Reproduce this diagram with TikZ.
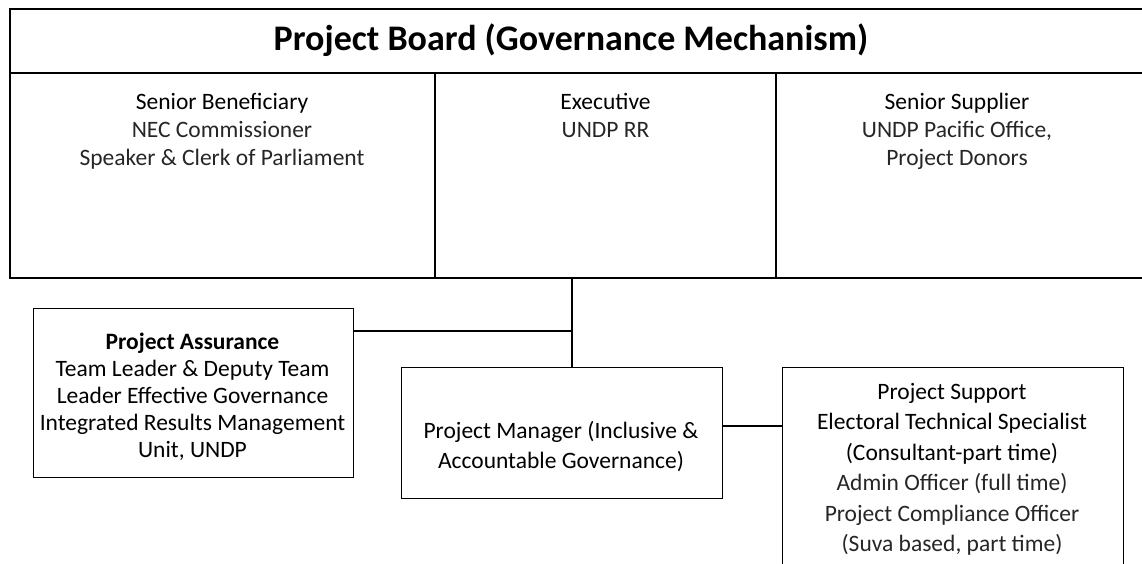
\documentclass[tikz,border=0pt]{standalone}
\usepackage{fontspec}
\setmainfont{Carlito}
\begin{document}
\begin{tikzpicture}[x=1pt,y=-1pt,
  frame/.style={draw=black,line width=1.6pt},
  box/.style={draw=black,line width=1.3pt,inner sep=0pt,anchor=north west},
  link/.style={draw=black,line width=1.3pt},
  txt/.style={align=center,inner sep=0pt,anchor=north,font=\fontsize{23.5}{28}\selectfont},
  lite/.style={black!85}]
\useasboundingbox (0,0) rectangle (1142,563);
\clip (0,0) rectangle (1142,563);
% Project board frame
\node[frame,inner sep=0pt,anchor=north west,minimum width=1140pt,minimum height=269pt] (board) at (9,8) {};
\coordinate (tl) at (9,73);
\draw[frame] (tl) -- (tl -| board.east);
\coordinate (d1) at (435,73);
\coordinate (d2) at (776,73);
\draw[frame] (d1) -- (d1 |- board.south);
\draw[frame] (d2) -- (d2 |- board.south);
\node[inner sep=0pt,font=\fontsize{36}{40}\bfseries\selectfont] (title) at (571,40) {Project Board (Governance Mechanism)};
\node[txt] (sb) at (222,93) {Senior Beneficiary\\{\color{black!85}NEC Commissioner}\\{\color{black!85}Speaker \& Clerk of Parliament}};
\node[txt] (ex) at (605.5,93) {Executive\\{\color{black!85}UNDP RR}};
\node[txt] (ss) at (957,93) {Senior Supplier\\{\color{black!85}UNDP Pacific Office,}\\{\color{black!85}Project Donors}};
% boxes
\node[box,minimum width=320pt,minimum height=169pt] (assure) at (32.5,308) {};
\node[box,minimum width=320.5pt,minimum height=131.5pt] (pm) at (401,366.5) {};
\node[box,minimum width=340.5pt,minimum height=240pt] (support) at (782,366.5) {};
\node[txt,font=\fontsize{23.5}{27}\selectfont] (assuretxt) at (192.5,333) {\textbf{Project Assurance}\\Team Leader \& Deputy Team\\Leader Effective Governance\\Integrated Results Management\\Unit, UNDP};
\node[txt,font=\fontsize{23.5}{30}\selectfont] (pmtxt) at (561,421) {Project Manager (Inclusive \&\\Accountable Governance)};
\node[txt,font=\fontsize{23.5}{30.5}\selectfont] (suptxt) at (952,383) {Project Support\\Electoral Technical Specialist\\(Consultant-part time)\\{\color{black!85}Admin Officer (full time)}\\{\color{black!85}Project Compliance Officer}\\{\color{black!85}(Suva based, part time)}};
% connectors
\coordinate (stem) at (572,277);
\coordinate (j1) at (572,331);
\coordinate (j2) at (750,426);
\draw[link] (stem) -- (stem |- pm.north);
\draw[link] (assure.east |- j1) -- (j1);
\draw[link] (pm.east |- j2) -- (support.west |- j2);
\end{tikzpicture}
\end{document}
